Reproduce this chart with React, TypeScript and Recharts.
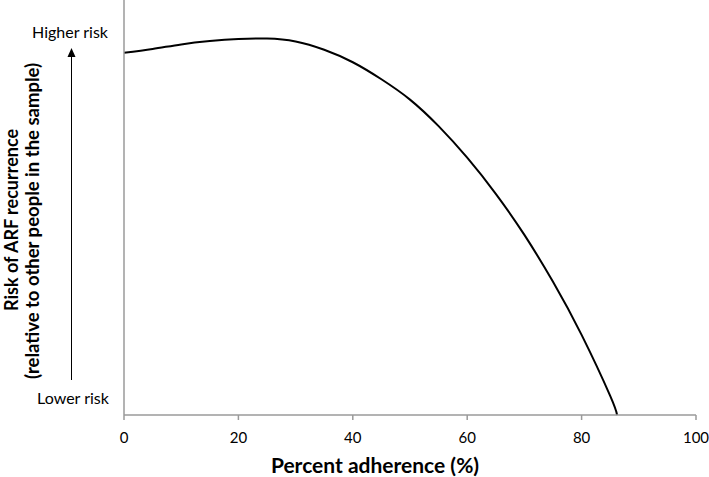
import React from "react";
import { LineChart, Line, XAxis, YAxis } from "recharts";

const adherence = [0, 5, 10, 15, 20, 25, 30, 35, 40, 45, 50, 55, 60, 65, 70, 75, 80, 85, 86.2];
const risk = [87.3, 88.2, 89.3, 90.1, 90.6, 90.7, 90.0, 88.0, 85.0, 80.9, 76.0, 69.6, 62.0, 53.3, 43.4, 32.1, 19.3, 4.6, 0];
const xTicks = [0, 20, 40, 60, 80, 100];

const data = adherence.map((x, i) => ({ x, y: risk[i] }));

const FONT = "Lato, 'Open Sans', sans-serif";
const GREY = "#9a9a9a";

const YAnnotations = () => (
  <g>
    <text x={70} y={38} textAnchor="middle" fontSize={16} fontFamily={FONT} fill="#000">Higher risk</text>
    <text x={73} y={404} textAnchor="middle" fontSize={16} fontFamily={FONT} fill="#000">Lower risk</text>
    <line x1={71.5} y1={380} x2={71.5} y2={56} stroke="#000" strokeWidth={1} />
    <polygon points="71.5,48 67.5,57 75.5,57" fill="#000" />
    <text transform="translate(18,220) rotate(-90)" textAnchor="middle" fontSize={18} fontWeight="bold" fontFamily={FONT} fill="#000">Risk of ARF recurrence</text>
    <text transform="translate(39,221) rotate(-90)" textAnchor="middle" fontSize={18.5} fontWeight="bold" fontFamily={FONT} fill="#000">(relative to other people in the sample)</text>
  </g>
);

const XTitle = () => (
  <text x={375} y={473} textAnchor="middle" fontSize={21} fontWeight="bold" fontFamily={FONT} fill="#000">Percent adherence (%)</text>
);

export default function App() {
  return (
    <div style={{ position: "absolute", left: 0, top: 0, width: 709, height: 477, background: "#fff" }}>
      <LineChart width={709} height={477} data={data} margin={{ top: 0, right: 13, left: 123, bottom: 0 }}>
        <XAxis
          type="number"
          dataKey="x"
          domain={[0, 100]}
          ticks={xTicks}
          height={62}
          tickSize={5}
          tickMargin={12}
          axisLine={{ stroke: GREY, strokeWidth: 1.5 }}
          tickLine={{ stroke: GREY, strokeWidth: 1.5 }}
          tick={{ fill: "#000", fontSize: 15, fontFamily: FONT }}
          label={{ content: () => <XTitle /> }}
        />
        <YAxis
          type="number"
          domain={[0, 100]}
          width={1}
          tick={false}
          tickLine={false}
          axisLine={{ stroke: GREY, strokeWidth: 1.5 }}
          label={{ content: () => <YAnnotations /> }}
        />
        <Line
          type="natural"
          dataKey="y"
          stroke="#000"
          strokeWidth={2}
          dot={false}
          isAnimationActive={false}
        />
      </LineChart>
    </div>
  );
}
